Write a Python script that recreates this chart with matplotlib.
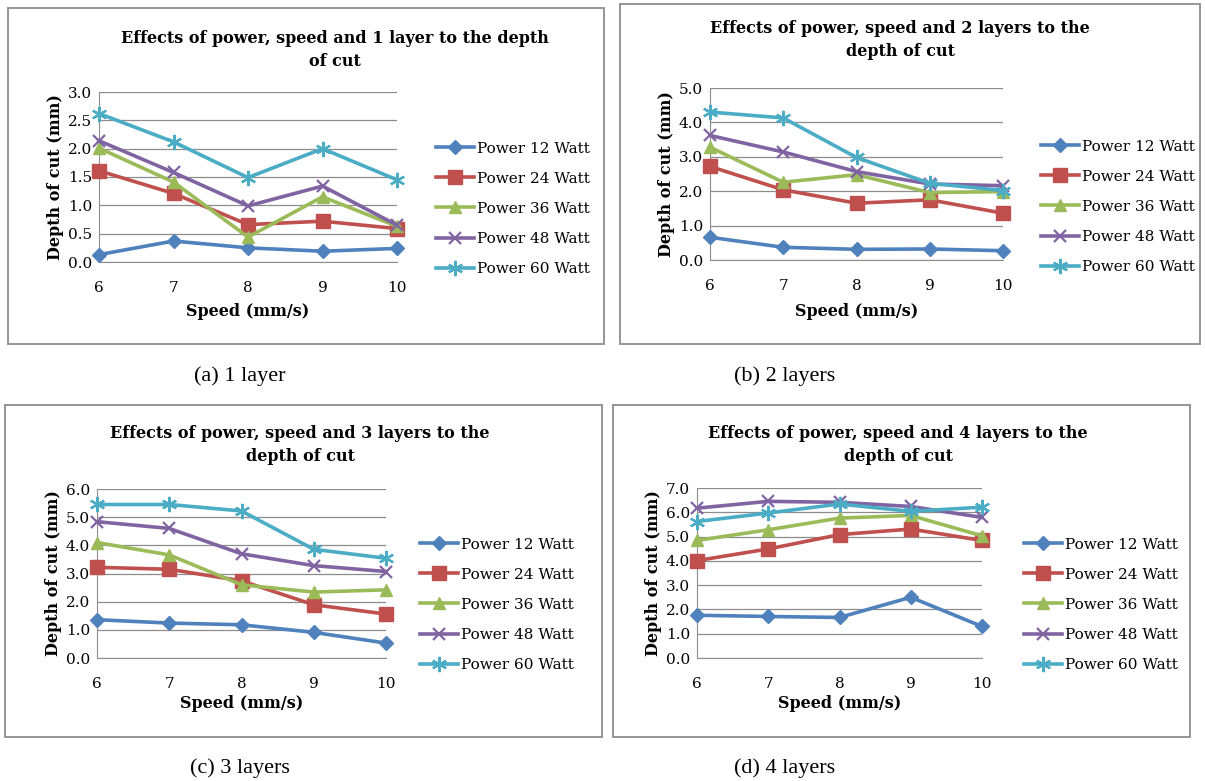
import matplotlib
matplotlib.use("Agg")
import matplotlib.pyplot as plt
from matplotlib.patches import Rectangle
from matplotlib.ticker import FormatStrFormatter

W, H = 1205, 781

speeds = [6, 7, 8, 9, 10]
powers = ["Power 12 Watt", "Power 24 Watt", "Power 36 Watt", "Power 48 Watt", "Power 60 Watt"]

# depth of cut (mm), one row per power level
depth_1_layer = [
    [0.13, 0.37, 0.25, 0.19, 0.24],
    [1.61, 1.21, 0.66, 0.72, 0.59],
    [2.01, 1.41, 0.44, 1.15, 0.63],
    [2.14, 1.58, 0.99, 1.34, 0.65],
    [2.62, 2.12, 1.49, 2.00, 1.45],
]
depth_2_layers = [
    [0.66, 0.37, 0.31, 0.32, 0.27],
    [2.72, 2.04, 1.65, 1.75, 1.36],
    [3.28, 2.26, 2.48, 1.96, 1.99],
    [3.62, 3.14, 2.57, 2.21, 2.16],
    [4.30, 4.13, 2.98, 2.23, 2.02],
]
depth_3_layers = [
    [1.36, 1.24, 1.18, 0.91, 0.53],
    [3.22, 3.15, 2.74, 1.89, 1.56],
    [4.10, 3.66, 2.60, 2.34, 2.42],
    [4.84, 4.60, 3.70, 3.28, 3.07],
    [5.45, 5.45, 5.22, 3.86, 3.54],
]
depth_4_layers = [
    [1.76, 1.71, 1.67, 2.50, 1.30],
    [4.01, 4.49, 5.08, 5.31, 4.84],
    [4.84, 5.28, 5.76, 5.87, 5.03],
    [6.17, 6.45, 6.41, 6.24, 5.79],
    [5.62, 5.97, 6.34, 6.04, 6.21],
]

colors = ["#4F81BD", "#C0504D", "#9BBB59", "#8064A2", "#4BACC6"]
markers = ["D", "s", "^", "x", (6, 2, 0)]
msizes = [7, 10, 9, 9, 11]

SERIF = ["DejaVu Serif"]

# (data, ymax, title, caption, box, axes px (x0, x1, ytop, ybot), legend px, title px, caption px, xlabel y)
panels = [
    (depth_1_layer, 3.0, "Effects of power, speed and 1 layer to the depth\nof cut", "(a) 1 layer",
     (8, 8, 604, 344), (99, 397, 92, 262), (422, 128), (335, 50), (240, 376), 311),
    (depth_2_layers, 5.0, "Effects of power, speed and 2 layers to the\ndepth of cut", "(b) 2 layers",
     (620, 4, 1200, 344), (710, 1003, 88, 260), (1027, 126), (900, 40), (785, 376), 311),
    (depth_3_layers, 6.0, "Effects of power, speed and 3 layers to the\ndepth of cut", "(c) 3 layers",
     (5, 405, 602, 737), (97, 386, 489, 658), (406, 524), (300, 445), (240, 768), 703),
    (depth_4_layers, 7.0, "Effects of power, speed and 4 layers to the\ndepth of cut", "(d) 4 layers",
     (613, 405, 1190, 737), (697, 982, 488, 658), (1010, 524), (898, 445), (785, 768), 703),
]

fig = plt.figure(figsize=(W / 100, H / 100), dpi=100)
fig.patch.set_facecolor("white")

for data, ymax, title, caption, box, axpx, legpx, titpx, cappx, xly in panels:
    bx0, by0, bx1, by1 = box
    fig.patches.append(Rectangle((bx0 / W, 1 - by1 / H), (bx1 - bx0) / W, (by1 - by0) / H,
                                 transform=fig.transFigure, fill=False,
                                 edgecolor="#8c8c8c", lw=1.3))
    x0, x1, yt, yb = axpx
    ax = fig.add_axes([x0 / W, 1 - yb / H, (x1 - x0) / W, (yb - yt) / H])
    for i, row in enumerate(data):
        ax.plot(speeds, row, color=colors[i], lw=2.6, marker=markers[i], ms=msizes[i],
                mew=1.6 if i >= 3 else 1, mec=colors[i], label=powers[i], clip_on=False,
                zorder=3 + i)
    ax.set_xlim(6, 10)
    ax.set_ylim(0, ymax)
    step = 0.5 if ymax == 3.0 else 1.0
    ax.set_yticks([k * step for k in range(int(round(ymax / step)) + 1)])
    ax.yaxis.set_major_formatter(FormatStrFormatter("%.1f"))
    ax.set_xticks(speeds)
    ax.grid(axis="y", color="#8c8c8c", lw=0.9)
    ax.set_axisbelow(True)
    for s in ["top", "right"]:
        ax.spines[s].set_visible(False)
    for s in ["left", "bottom"]:
        ax.spines[s].set_color("#8c8c8c")
    ax.tick_params(length=0, labelsize=11, pad=14)
    ax.tick_params(axis="y", pad=5)
    for lab in ax.get_xticklabels() + ax.get_yticklabels():
        lab.set_family(SERIF)
    ax.set_ylabel("Depth of cut (mm)", fontsize=11.5, fontweight="bold", family=SERIF, labelpad=3)
    fig.text((x0 + x1) / 2 / W, 1 - xly / H, "Speed (mm/s)", ha="center", va="center",
             fontsize=11.5, fontweight="bold", family=SERIF)
    fig.text(titpx[0] / W, 1 - titpx[1] / H, title, ha="center", va="center",
             fontsize=11.5, fontweight="bold", family=SERIF, linespacing=1.5)
    fig.text(cappx[0] / W, 1 - cappx[1] / H, caption, ha="center", va="center",
             fontsize=16, family=["Liberation Serif"])
    ax.legend(loc="upper left", bbox_to_anchor=(legpx[0] / W, 1 - legpx[1] / H),
              bbox_transform=fig.transFigure, frameon=False, handlelength=2.5,
              handletextpad=0.2, labelspacing=1.05, prop={"family": SERIF, "size": 11})

fig.savefig("out.png", dpi=100, facecolor="white")
